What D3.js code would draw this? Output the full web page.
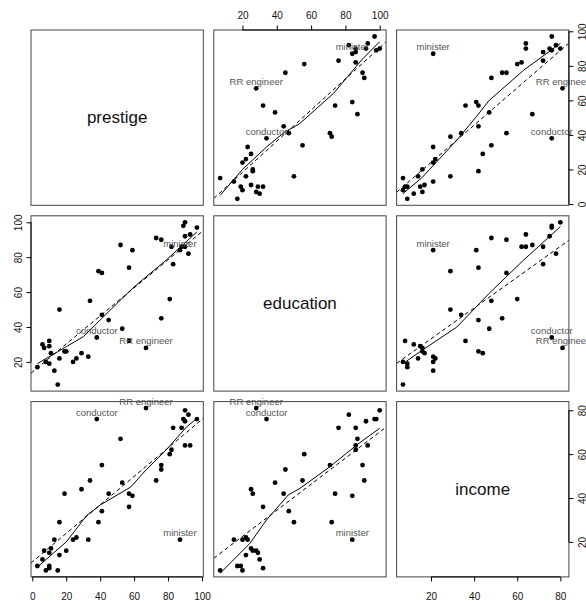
<!DOCTYPE html>
<html><head><meta charset="utf-8">
<script src="https://cdn.jsdelivr.net/npm/d3@7"></script>
<style>
body{margin:0;background:#fff}
svg{display:block}
text{font-family:"Liberation Sans",Arial,Helvetica,sans-serif}
</style>
</head><body>
<svg id="c" width="586" height="601"></svg>
<script>
// ---- Duncan occupational data ----
const occupations = ["accountant","pilot","architect","author","chemist","minister","professor","dentist","reporter","engineer","undertaker","lawyer","physician","welfare worker","teacher","conductor","contractor","factory owner","store manager","banker","bookkeeper","mail carrier","insurance agent","store clerk","carpenter","electrician","RR engineer","machinist","auto repairman","plumber","gas stn attendant","coal miner","streetcar motorman","taxi driver","truck driver","machine operator","barber","bartender","shoe shiner","cook","soda clerk","watchman","janitor","policeman","waiter"];
const income    = [62,72,75,55,64,21,64,80,67,72,42,76,76,41,48,76,53,60,42,78,29,48,55,29,21,47,81,36,22,44,15,7,42,9,21,21,16,16,9,14,12,17,7,34,8];
const education = [86,76,92,90,86,84,93,100,87,86,74,98,97,84,91,34,45,56,44,82,72,55,71,50,23,39,28,32,22,25,29,7,26,19,15,20,26,28,17,22,30,25,20,47,32];
const prestige  = [82,83,90,76,90,87,93,90,52,88,57,89,97,59,73,38,76,81,45,92,39,34,41,16,33,53,67,57,26,29,10,15,19,10,13,24,20,7,3,16,6,11,8,41,10];
const labelled = ["minister","RR engineer","conductor"];
const varNames = ["prestige","education","income"];
const tickValues = {prestige:[0,20,40,60,80,100], education:[20,40,60,80,100], income:[20,40,60,80]};

// smoother (solid) lines: [x, y] in data units, named y_x
const smooth_prestige_education = [[7,5],[20,20],[34,33],[45,42],[50,44.5],[53.5,46.7],[73,64],[90,84],[100,94]];
const smooth_prestige_income    = [[7,6],[16,15.5],[32,37],[41,50.5],[47,60],[63,77.5],[80,93]];
const smooth_education_prestige = [[3,19],[20,28.7],[30,34.4],[40,44],[50,53.6],[60,63],[79,78.4],[97,94.5]];
const smooth_education_income   = [[7,19],[16,26.8],[32,40],[41,51.6],[47,59.3],[63,78.4],[80,97.5]];
const smooth_income_prestige    = [[3,8.5],[20,20],[32,32],[40,36.8],[58,45],[67,52.8],[79,62],[91,72.5],[97,76.3]];
const smooth_income_education   = [[7,5.7],[24.4,19.4],[34,30],[46.7,41.4],[53.5,44.4],[71,54.3],[86.6,64.2],[100,71.8]];
const smoothers = {
  "prestige_education":smooth_prestige_education, "prestige_income":smooth_prestige_income,
  "education_prestige":smooth_education_prestige, "education_income":smooth_education_income,
  "income_prestige":smooth_income_prestige, "income_education":smooth_income_education
};

const data = {prestige, education, income};
const L=31, T=30, PW=172.3, PH=175.3, G=10.5, TK=4.5;
const svg = d3.select("#c");
const defs = svg.append("defs");

function ext(a){const [mn,mx]=d3.extent(a); const d=(mx-mn)*0.04; return [mn-d,mx+d];}
function lsfit(xa, ya){
  const mx=d3.mean(xa), my=d3.mean(ya);
  let sxy=0,sxx=0; xa.forEach((x,k)=>{sxy+=(x-mx)*(ya[k]-my); sxx+=(x-mx)*(x-mx);});
  const b=sxy/sxx; return {a:my-b*mx,b};
}

varNames.forEach((yv,i)=>{
  varNames.forEach((xv,j)=>{
    const x0=L+j*(PW+G), y0=T+i*(PH+G);
    const xs=d3.scaleLinear().domain(ext(data[xv])).range([x0,x0+PW]);
    const ys=d3.scaleLinear().domain(ext(data[yv])).range([y0+PH,y0]);
    const g=svg.append("g");
    if(i===j){
      g.append("text").attr("x",x0+PW/2).attr("y",y0+PH/2).attr("text-anchor","middle")
        .attr("dominant-baseline","central").attr("font-size",17).attr("fill","#111").text(yv);
    } else {
      const cid=`clip${i}${j}`;
      defs.append("clipPath").attr("id",cid).append("rect").attr("x",x0).attr("y",y0).attr("width",PW).attr("height",PH);
      const lc=g.append("g").attr("clip-path",`url(#${cid})`);
      const fit=lsfit(data[xv],data[yv]);
      const dom=xs.domain();
      lc.append("line").attr("x1",xs(dom[0])).attr("y1",ys(fit.a+fit.b*dom[0]))
        .attr("x2",xs(dom[1])).attr("y2",ys(fit.a+fit.b*dom[1]))
        .attr("stroke","#000").attr("stroke-width",1).attr("stroke-dasharray","4,3");
      const sm=smoothers[`${yv}_${xv}`];
      lc.append("path").attr("d",d3.line().x(d=>xs(d[0])).y(d=>ys(d[1]))(sm))
        .attr("fill","none").attr("stroke","#000").attr("stroke-width",1);
      g.selectAll("circle").data(occupations.map((n,k)=>k)).join("circle")
        .attr("cx",k=>xs(data[xv][k])).attr("cy",k=>ys(data[yv][k])).attr("r",2.4).attr("fill","#000");
      labelled.forEach(n=>{
        const k=occupations.indexOf(n);
        g.append("text").attr("x",xs(data[xv][k])).attr("y",ys(data[yv][k])-7)
          .attr("text-anchor","middle").attr("dominant-baseline","central")
          .attr("font-size",9.5).attr("fill","#555").text(n);
      });
    }
    g.append("rect").attr("x",x0).attr("y",y0).attr("width",PW).attr("height",PH)
      .attr("fill","none").attr("stroke","#444").attr("stroke-width",1);

    // axes (R pairs style)
    const n=varNames.length;
    const drawAxis=(side)=>{
      const vals = (side==="top"||side==="bottom") ? tickValues[xv] : tickValues[yv];
      const sc = (side==="top"||side==="bottom") ? xs : ys;
      let ax, tr;
      if(side==="top"){ax=d3.axisTop(sc); tr=`translate(0,${y0})`;}
      if(side==="bottom"){ax=d3.axisBottom(sc); tr=`translate(0,${y0+PH})`;}
      if(side==="left"){ax=d3.axisLeft(sc); tr=`translate(${x0},0)`;}
      if(side==="right"){ax=d3.axisRight(sc); tr=`translate(${x0+PW},0)`;}
      ax.tickValues(vals).tickSize(TK).tickSizeOuter(0).tickFormat(d3.format("d"));
      const a=svg.append("g").attr("transform",tr).call(ax);
      a.select(".domain").remove();
      a.selectAll(".tick line").attr("stroke","#000");
      const t=a.selectAll(".tick text").attr("font-size",10).attr("fill","#111")
        .attr("font-family","'Liberation Sans',Arial,sans-serif");
      if(side==="top"){ t.attr("y",-15).attr("dy","0.35em"); }
      if(side==="bottom"){ t.attr("y",19.7).attr("dy","0.35em"); }
      if(side==="left"){ t.attr("x",null).attr("dy","0.35em").attr("text-anchor","middle").attr("transform","translate(-13,0) rotate(-90)"); }
      if(side==="right"){ t.attr("x",null).attr("dy","0.35em").attr("text-anchor","middle").attr("transform","translate(14,0) rotate(-90)"); }
      const v0=sc(vals[0]), v1=sc(vals[vals.length-1]);
      if(side==="top"||side==="bottom") a.append("line").attr("x1",v0).attr("x2",v1).attr("y1",0).attr("y2",0).attr("stroke","#000");
      else a.append("line").attr("y1",v0).attr("y2",v1).attr("x1",0).attr("x2",0).attr("stroke","#000");
    };
    if(i===0 && j%2===1) drawAxis("top");
    if(i===n-1 && j%2===0) drawAxis("bottom");
    if(j===0 && i%2===1) drawAxis("left");
    if(j===n-1 && i%2===0) drawAxis("right");
  });
});
</script>
</body></html>
